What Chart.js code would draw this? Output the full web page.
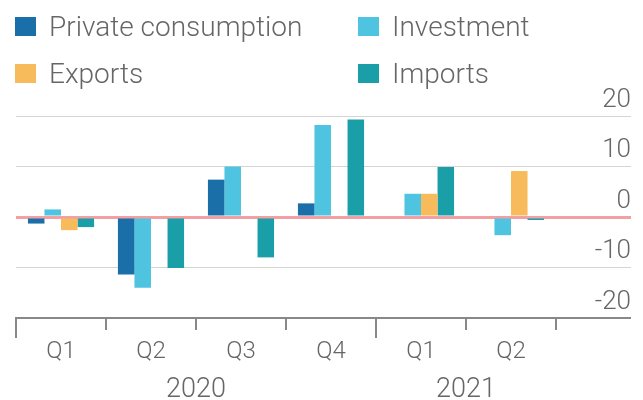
<!DOCTYPE html>
<html>
<head>
<meta charset="utf-8">
<script src="https://cdn.jsdelivr.net/npm/chart.js@4.4.1/dist/chart.umd.min.js"></script>
<style>
  html, body { margin: 0; padding: 0; background: #fff; }
  #wrap { position: relative; width: 643px; height: 400px; overflow: hidden; }
  #chart { position: absolute; left: 0; top: 0; }
  #legend {
    position: absolute; left: 15px; top: 3px;
    display: grid; grid-template-columns: 343px auto;
    font-family: Roboto, "Open Sans", sans-serif; font-weight: 300;
    font-size: 28px; color: #666;
  }
  #legend .item { display: flex; align-items: center; height: 47px; white-space: nowrap; }
  #legend .sw { width: 21px; height: 19px; margin-right: 13px; flex: none; }
</style>
</head>
<body>
<div id="wrap">
  <canvas id="chart" width="643" height="400"></canvas>
  <div id="legend"></div>
</div>
<script>
// Quarterly contributions, percentage change
const quarters = ['Q1', 'Q2', 'Q3', 'Q4', 'Q1', 'Q2'];
const years = ['2020', '2021'];
const quarterYear = [0, 0, 0, 0, 1, 1];

const privateConsumption = [-1.3, -11.4, 7.4, 2.7, null, null];
const investment = [1.5, -14.0, 10.0, 18.2, 4.6, -3.6];
const exportsValues = [-2.6, null, null, null, 4.6, 9.1];
const importsValues = [-2.0, -10.1, -8.0, 19.3, 9.9, -0.6];

const yTicks = [-20, -10, 0, 10, 20];

const seriesNames = ['Private consumption', 'Investment', 'Exports', 'Imports'];
const seriesColors = ['#1b6fa9', '#4fc4e0', '#f7bb5c', '#1a9fa9'];
const seriesValues = [privateConsumption, investment, exportsValues, importsValues];

const FONT = 'Roboto, "Open Sans", sans-serif';
const TEXT = '#666';

// Legend in two columns
const legendEl = document.getElementById('legend');
seriesNames.forEach((name, i) => {
  const item = document.createElement('div');
  item.className = 'item';
  const sw = document.createElement('span');
  sw.className = 'sw';
  sw.style.background = seriesColors[i];
  const txt = document.createElement('span');
  txt.textContent = name;
  item.appendChild(sw);
  item.appendChild(txt);
  legendEl.appendChild(item);
});

// Longer ticks at the start of each year and the year captions
const yearAxis = {
  id: 'yearAxis',
  afterDraw(chart) {
    const xs = chart.scales.x;
    const ctx = chart.ctx;
    const step = xs.width / quarters.length;
    ctx.save();
    ctx.strokeStyle = '#888';
    ctx.lineWidth = 2;
    ctx.fillStyle = TEXT;
    ctx.font = '300 27px ' + FONT;
    ctx.textAlign = 'center';
    ctx.textBaseline = 'middle';
    years.forEach((yr, k) => {
      const idx = quarterYear.map((q, i) => q === k ? i : -1).filter(i => i >= 0);
      const left = xs.getPixelForValue(idx[0]) - step / 2;
      const right = xs.getPixelForValue(idx[idx.length - 1]) + step / 2;
      const lx = Math.round(left);
      ctx.beginPath();
      ctx.moveTo(lx, xs.top + 10);
      ctx.lineTo(lx, xs.top + 20);
      ctx.stroke();
      ctx.fillText(yr, (left + right) / 2, 390);
    });
    ctx.restore();
  }
};

new Chart(document.getElementById('chart'), {
  type: 'bar',
  data: {
    labels: quarters,
    datasets: seriesNames.map((name, i) => ({
      label: name,
      data: seriesValues[i],
      backgroundColor: seriesColors[i],
      borderWidth: 0,
      categoryPercentage: 0.735,
      barPercentage: 1.0
    }))
  },
  options: {
    responsive: false,
    animation: false,
    devicePixelRatio: 1,
    layout: { padding: { left: 16, right: 12, top: 116, bottom: 0 } },
    plugins: { legend: { display: false }, tooltip: { enabled: false } },
    scales: {
      x: {
        position: 'bottom',
        offset: true,
        afterFit(s) { s.height = 82; },
        grid: {
          offset: true,
          drawOnChartArea: false,
          drawTicks: true,
          tickLength: 12,
          color: '#888',
          lineWidth: 2
        },
        border: { display: true, color: '#888', width: 2 },
        ticks: {
          color: TEXT,
          padding: 8,
          font: { family: FONT, size: 24, weight: 300 }
        }
      },
      y: {
        position: 'right',
        min: yTicks[0],
        max: yTicks[yTicks.length - 1],
        afterBuildTicks(s) { s.ticks = yTicks.map(v => ({ value: v })); },
        afterFit(s) {
          s.width = 75;
          s.paddingTop = 0;
          s.paddingBottom = 0;
        },
        border: { display: false },
        grid: {
          drawTicks: true,
          tickLength: 75,
          color: c => c.tick && c.tick.value === 0 ? '#f2a0a4'
                    : (c.tick && c.tick.value === yTicks[0] ? '#888' : '#d4d4d4'),
          lineWidth: c => c.tick && c.tick.value === 0 ? 3
                    : (c.tick && c.tick.value === yTicks[0] ? 2 : 1)
        },
        ticks: {
          mirror: true,
          padding: 75,
          labelOffset: -16,
          color: TEXT,
          font: { family: FONT, size: 26, weight: 300 }
        }
      }
    }
  },
  plugins: [yearAxis]
});
</script>
</body>
</html>
